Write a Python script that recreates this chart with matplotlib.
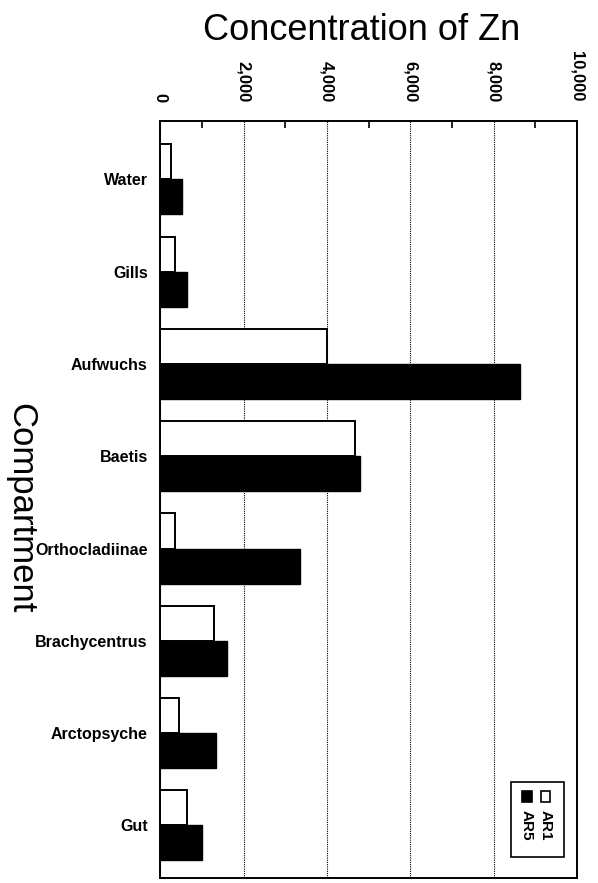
import matplotlib.pyplot as plt
import numpy as np
from matplotlib.patches import Rectangle

plt.rcParams['font.family'] = ['Liberation Sans', 'DejaVu Sans']

compartments = ["Water", "Gills", "Aufwuchs", "Baetis", "Orthocladiinae",
                "Brachycentrus", "Arctopsyche", "Gut"]
ar1 = [265, 360, 4000, 4680, 360, 1300, 460, 630]
ar5 = [530, 630, 8630, 4800, 3350, 1590, 1330, 1010]
series_names = ["AR1", "AR5"]
xticks = [0, 2000, 4000, 6000, 8000, 10000]

fig = plt.figure(figsize=(5.98, 8.83), dpi=100)
ax = fig.add_axes([0.268, 0.0057, 0.697, 0.857])

y = np.arange(len(compartments))
h = 0.38
ax.barh(y - h / 2, ar1, height=h, color='white', edgecolor='black', linewidth=1.4)
ax.barh(y + h / 2, ar5, height=h, color='black', edgecolor='black', linewidth=1.0)

ax.set_xlim(0, 10000)
ax.set_ylim(7.57, -0.63)

ax.xaxis.tick_top()
ax.set_xticks(xticks)
ax.set_xticklabels(["{:,}".format(v) for v in xticks], rotation=-90,
                   fontsize=12, fontweight='bold')
ax.set_xticks(np.arange(1000, 10000, 2000), minor=True)
ax.tick_params(axis='x', which='major', direction='in', length=0, pad=14)
ax.tick_params(axis='x', which='minor', direction='in', length=5, width=1.2, top=True)
ax.set_yticks(y)
ax.set_yticklabels(compartments, fontsize=11.5, fontweight='bold')
ax.tick_params(axis='y', length=0, pad=9)

ax.grid(axis='x', which='major', color='black', linestyle=(0, (1, 1)), linewidth=0.8)
ax.set_axisbelow(True)
for s in ax.spines.values():
    s.set_linewidth(1.4)

# legend (rotated like the rest of the page)
tr = ax.transAxes
ax.add_patch(Rectangle((0.842, 0.028), 0.127, 0.099, transform=tr,
                       facecolor='white', edgecolor='black', linewidth=1.2, zorder=5))
ax.add_patch(Rectangle((0.913, 0.100), 0.022, 0.0145, transform=tr,
                       facecolor='white', edgecolor='black', linewidth=1.2, zorder=6))
ax.add_patch(Rectangle((0.867, 0.100), 0.026, 0.0145, transform=tr,
                       facecolor='black', edgecolor='black', linewidth=1.2, zorder=6))
ax.text(0.924, 0.070, series_names[0], transform=tr, rotation=-90, ha='center',
        va='center', fontsize=11, fontweight='bold', zorder=7)
ax.text(0.880, 0.070, series_names[1], transform=tr, rotation=-90, ha='center',
        va='center', fontsize=11, fontweight='bold', zorder=7)

fig.text(0.605, 0.966, "Concentration of Zn", ha='center', va='center', fontsize=26)
fig.text(0.034, 0.425, "Compartment", ha='center', va='center', rotation=-90, fontsize=25)

fig.savefig('out.png', dpi=100)
